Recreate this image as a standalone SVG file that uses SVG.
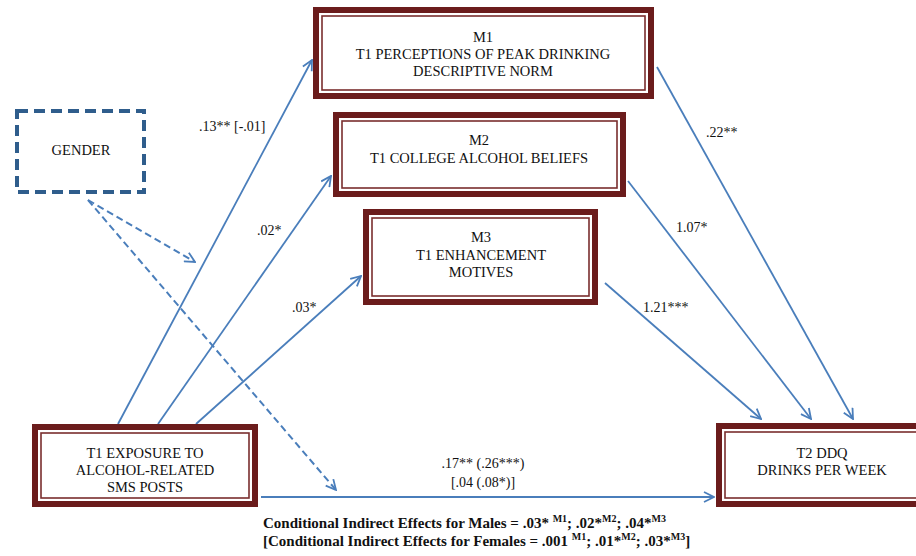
<svg xmlns="http://www.w3.org/2000/svg" width="916" height="556" viewBox="0 0 916 556">
<defs>
<marker id="ah" viewBox="0 0 12 12" refX="11" refY="6" markerWidth="12" markerHeight="12" markerUnits="userSpaceOnUse" orient="auto">
<path d="M1,1 L11,6 L1,11" fill="none" stroke="#4a7ebb" stroke-width="1.8"/>
</marker>
</defs>
<style>
.outer{fill:#fff;stroke:#6b1c1c;stroke-width:6}
.inner{fill:none;stroke:#7a2e2e;stroke-width:1.6}
.t{font-family:"Liberation Serif","Times New Roman",serif;font-size:14.5px;fill:#111;text-anchor:middle}
.lb{font-family:"Liberation Serif","Times New Roman",serif;font-size:14px;fill:#111}
.c{fill:none;stroke:#4a7ebb;stroke-width:1.8;marker-end:url(#ah)}
.d{fill:none;stroke:#4a7ebb;stroke-width:2;stroke-dasharray:7,4;marker-end:url(#ah)}
.ft{font-family:"Liberation Serif","Times New Roman",serif;font-size:15px;font-weight:bold;fill:#111}
.sup{font-size:10px}
</style>
<rect width="916" height="556" fill="#fff"/>
<g id="connectors">
<line class="c" x1="118" y1="424" x2="312" y2="60"/>
<line class="c" x1="158" y1="424" x2="331" y2="176"/>
<line class="c" x1="196" y1="424" x2="361" y2="276"/>
<line class="c" x1="657" y1="67" x2="853" y2="419"/>
<line class="c" x1="628" y1="181" x2="811" y2="419"/>
<line class="c" x1="605" y1="283" x2="761" y2="419"/>
<line class="c" x1="261" y1="497" x2="714" y2="497"/>
<line class="d" x1="88" y1="200" x2="195" y2="262"/>
<line class="d" x1="88" y1="200" x2="336" y2="490"/>
<text class="lb" x="199" y="131">.13** [-.01]</text>
<text class="lb" x="257" y="235">.02*</text>
<text class="lb" x="292" y="312">.03*</text>
<text class="lb" x="706" y="137">.22**</text>
<text class="lb" x="676" y="232">1.07*</text>
<text class="lb" x="643" y="312">1.21***</text>
<text class="lb" x="483" y="468" text-anchor="middle">.17** (.26***)</text>
<text class="lb" x="483" y="487" text-anchor="middle">[.04 (.08*)]</text>
</g>
<g id="gender">
<rect x="17" y="111" width="127" height="81" fill="#fff" stroke="#2f5d8c" stroke-width="4" stroke-dasharray="11,6"/>
<text class="t" x="81" y="155">GENDER</text>
</g>
<g id="m1">
<rect class="outer" x="316" y="10" width="335" height="86"/>
<rect class="inner" x="322" y="16" width="323" height="74"/>
<text class="t" x="483" y="42">M1</text>
<text class="t" x="483" y="59">T1 PERCEPTIONS OF PEAK DRINKING</text>
<text class="t" x="483" y="76">DESCRIPTIVE NORM</text>
</g>
<g id="m2">
<rect class="outer" x="336" y="115" width="287" height="79"/>
<rect class="inner" x="342" y="121" width="275" height="67"/>
<text class="t" x="479" y="145">M2</text>
<text class="t" x="479" y="163">T1 COLLEGE ALCOHOL BELIEFS</text>
</g>
<g id="m3">
<rect class="outer" x="366" y="212" width="229" height="90"/>
<rect class="inner" x="372" y="218" width="217" height="78"/>
<text class="t" x="481" y="242">M3</text>
<text class="t" x="481" y="260">T1 ENHANCEMENT</text>
<text class="t" x="481" y="277">MOTIVES</text>
</g>
<g id="source">
<rect class="outer" x="35" y="427" width="220" height="77"/>
<rect class="inner" x="41" y="433" width="208" height="65"/>
<text class="t" x="145" y="458">T1 EXPOSURE TO</text>
<text class="t" x="145" y="475">ALCOHOL-RELATED</text>
<text class="t" x="145" y="492">SMS POSTS</text>
</g>
<g id="target">
<rect class="outer" x="719" y="426" width="210" height="78"/>
<rect class="inner" x="725" y="432" width="198" height="66"/>
<text class="t" x="822" y="458">T2 DDQ</text>
<text class="t" x="822" y="475">DRINKS PER WEEK</text>
</g>
<g id="footnote">
<text class="ft" x="263" y="528">Conditional Indirect Effects for Males = .03* <tspan class="sup" dy="-6">M1</tspan><tspan dy="6">; .02*</tspan><tspan class="sup" dy="-6">M2</tspan><tspan dy="6">; .04*</tspan><tspan class="sup" dy="-6">M3</tspan></text>
<text class="ft" x="263" y="546">[Conditional Indirect Effects for Females = .001 <tspan class="sup" dy="-6">M1</tspan><tspan dy="6">; .01*</tspan><tspan class="sup" dy="-6">M2</tspan><tspan dy="6">; .03*</tspan><tspan class="sup" dy="-6">M3</tspan><tspan dy="6">]</tspan></text>
</g>
</svg>
